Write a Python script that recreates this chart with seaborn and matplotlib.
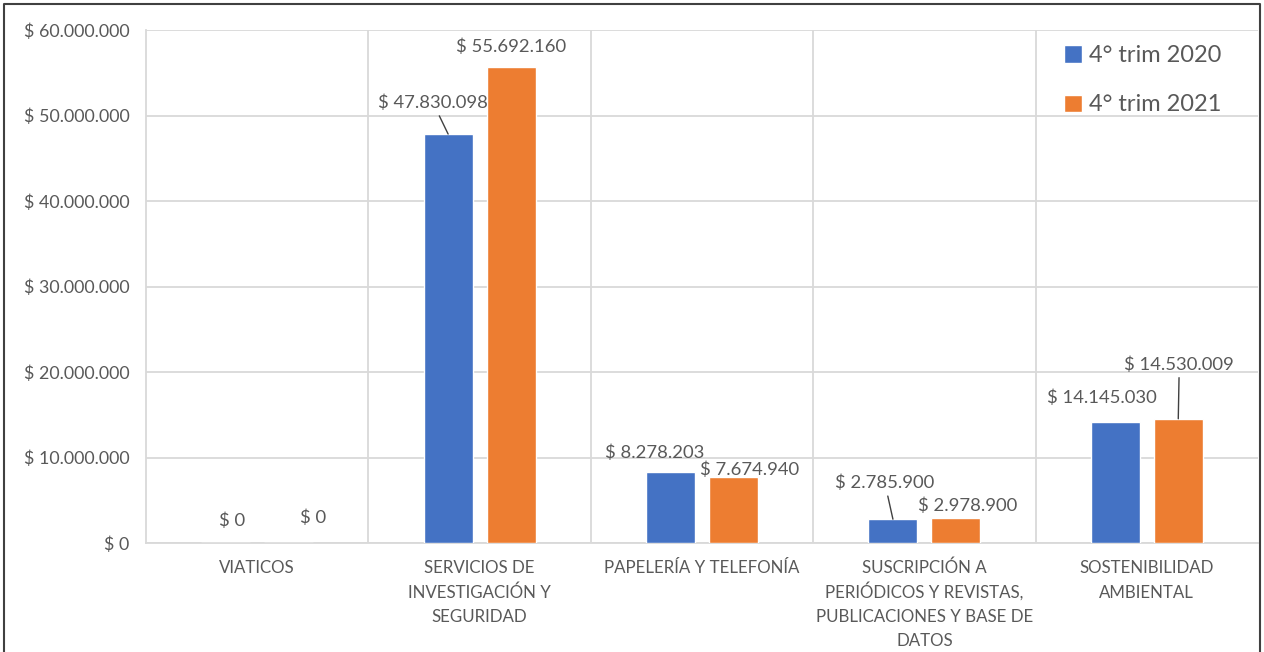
import matplotlib
matplotlib.use("Agg")
import matplotlib.pyplot as plt
import matplotlib.ticker as mticker
import seaborn as sns
import pandas as pd

categorias = [
    "VIATICOS",
    "SERVICIOS DE\nINVESTIGACIÓN Y\nSEGURIDAD",
    "PAPELERÍA Y TELEFONÍA",
    "SUSCRIPCIÓN A\nPERIÓDICOS Y REVISTAS,\nPUBLICACIONES Y BASE DE\nDATOS",
    "SOSTENIBILIDAD\nAMBIENTAL",
]
trim_2020 = [0, 47830098, 8278203, 2785900, 14145030]
trim_2021 = [0, 55692160, 7674940, 2978900, 14530009]
series = ["4° trim 2020", "4° trim 2021"]

df = pd.DataFrame({
    "categoria": categorias * 2,
    "valor": trim_2020 + trim_2021,
    "periodo": [series[0]] * 5 + [series[1]] * 5,
})

# label offsets (pixels) from the top-centre of each bar, and whether a leader line is drawn
label_pos = {
    series[0]: [(6, 22, False), (-15, 31, True), (-16, 19, False), (-8, 36, True), (-13, 24, False)],
    series[1]: [(24, 25, False), (0, 20, False), (16, 8, False), (12, 12, False), (1, 54, True)],
}

sns.set_style("white")
plt.rcParams["font.family"] = ["Lato", "DejaVu Sans"]
gray = "#595959"
grid = "#d9d9d9"

fig = plt.figure(figsize=(12.64, 6.52), dpi=100)
ax = fig.add_axes([146 / 1264, 1 - 543 / 652, (1258 - 146) / 1264, (543 - 30) / 652])

sns.barplot(data=df, x="categoria", y="valor", hue="periodo",
            palette=["#4472C4", "#ED7D31"], saturation=1, width=0.566, gap=0.222,
            ax=ax, zorder=3)

ax.set_ylim(0, 60000000)
ax.set_xlim(-0.5, 4.5)
ax.yaxis.set_major_locator(mticker.MultipleLocator(10000000))
ax.yaxis.set_major_formatter(mticker.FuncFormatter(
    lambda v, p: "$ " + f"{int(v):,}".replace(",", ".")))
ax.yaxis.grid(True, color=grid, lw=1.3, zorder=0)
for xb in [0.5, 1.5, 2.5, 3.5]:
    ax.axvline(xb, color=grid, lw=1.3, zorder=0)
for s in ["left", "bottom"]:
    ax.spines[s].set_color(grid)
    ax.spines[s].set_linewidth(1.3)
ax.spines["top"].set_visible(False)
ax.spines["right"].set_visible(False)
ax.tick_params(axis="y", length=0, pad=12, labelsize=12.9, labelcolor=gray)
ax.tick_params(axis="x", length=0)
ax.set_xticklabels([])
ax.set_xlabel("")
ax.set_ylabel("")

# category labels line by line, so that the spacing stays even
for i, cat in enumerate(categorias):
    for j, line in enumerate(cat.split("\n")):
        ax.annotate(line, xy=(i, 0), xycoords=("data", "axes fraction"),
                    xytext=(0, -30 - 24.5 * j), textcoords="offset pixels",
                    ha="center", va="baseline", fontsize=12.2, color=gray)

for cont, name in zip(ax.containers, series):
    for bar, (dx, dy, leader) in zip(cont, label_pos[name]):
        xc = bar.get_x() + bar.get_width() / 2
        h = bar.get_height()
        txt = "$ " + f"{int(h):,}".replace(",", ".")
        ax.annotate(txt, xy=(xc, h), xytext=(dx, dy), textcoords="offset pixels",
                    ha="center", va="center", fontsize=13.3, color=gray,
                    arrowprops=dict(arrowstyle="-", color="#404040", lw=1, shrinkA=1, shrinkB=0)
                    if leader else None, zorder=5)

leg = ax.legend(loc="upper right", bbox_to_anchor=(0.986, 1.012), frameon=False,
                fontsize=17, handlelength=0.75, handleheight=0.75,
                handletextpad=0.3, labelspacing=1.2, labelcolor=gray)

# outer frame of the image
fig.add_artist(plt.Line2D([4 / 1264, 4 / 1264, 1260 / 1264, 1260 / 1264],
                          [0, 1 - 4 / 652, 1 - 4 / 652, 0],
                          transform=fig.transFigure, color="#404040", lw=1.5))

fig.savefig("out.png", dpi=100)
